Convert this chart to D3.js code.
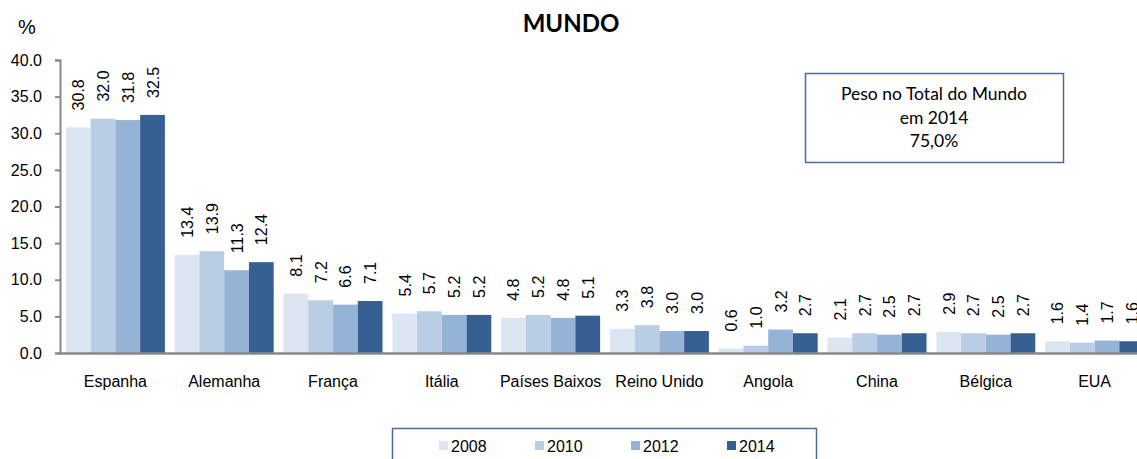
<!DOCTYPE html>
<html>
<head>
<meta charset="utf-8">
<script src="https://cdn.jsdelivr.net/npm/d3@7"></script>
<style>
  body { margin: 0; background: white; }
  svg { display: block; }
</style>
</head>
<body>
<svg id="chart" width="1137" height="459"></svg>
<script>
const countries = ["Espanha", "Alemanha", "França", "Itália", "Países Baixos", "Reino Unido", "Angola", "China", "Bélgica", "EUA"];
const years = ["2008", "2010", "2012", "2014"];
const v2008 = [30.8, 13.4, 8.1, 5.4, 4.8, 3.3, 0.6, 2.1, 2.9, 1.6];
const v2010 = [32.0, 13.9, 7.2, 5.7, 5.2, 3.8, 1.0, 2.7, 2.7, 1.4];
const v2012 = [31.8, 11.3, 6.6, 5.2, 4.8, 3.0, 3.2, 2.5, 2.5, 1.7];
const v2014 = [32.5, 12.4, 7.1, 5.2, 5.1, 3.0, 2.7, 2.7, 2.7, 1.6];
const yTicks = [0, 5, 10, 15, 20, 25, 30, 35, 40];
const colors = ["#dce6f2", "#b9cde5", "#95b3d7", "#366092"];

const series = [v2008, v2010, v2012, v2014];
const svg = d3.select("#chart");
const font = "'Liberation Sans', Arial, sans-serif";

const x = d3.scaleBand()
  .domain(countries)
  .range([61, 1149])
  .paddingInner(0.09)
  .paddingOuter(0.045);

const xs = d3.scaleBand()
  .domain(years)
  .range([0, x.bandwidth()]);

const y = d3.scaleLinear().domain([0, 40]).range([353, 60]);

// title
svg.append("text")
  .attr("x", 571)
  .attr("y", 32)
  .attr("text-anchor", "middle")
  .style("font-family", "Lato, 'Open Sans', sans-serif")
  .style("font-weight", "bold")
  .style("font-size", "24px")
  .text("MUNDO");

svg.append("text")
  .attr("x", 18)
  .attr("y", 34)
  .style("font-family", font)
  .style("font-size", "20px")
  .text("%");

// bars
const groups = svg.selectAll(".grp")
  .data(countries)
  .enter()
  .append("g")
  .attr("class", "grp")
  .attr("transform", (d) => `translate(${x(d)},0)`);

years.forEach(function (yr, j) {
  groups.append("rect")
    .attr("x", xs(yr))
    .attr("y", (d, i) => y(series[j][i]))
    .attr("width", xs.bandwidth())
    .attr("height", (d, i) => y(0) - y(series[j][i]))
    .attr("fill", colors[j]);

  groups.append("text")
    .attr("transform", (d, i) =>
      `translate(${xs(yr) + xs.bandwidth() / 2 + 6},${y(series[j][i]) - 17}) rotate(-90)`)
    .style("font-family", font)
    .style("font-size", "16px")
    .text((d, i) => series[j][i].toFixed(1));
});

// y axis
const yAxis = svg.append("g")
  .attr("transform", "translate(60,0)")
  .call(d3.axisLeft(y).tickValues(yTicks).tickFormat(d3.format(".1f")).tickSizeOuter(0).tickSize(5).tickPadding(13));
yAxis.select(".domain").attr("stroke", "#888").attr("stroke-width", 2);
yAxis.selectAll(".tick line").attr("stroke", "#888").attr("stroke-width", 2);
yAxis.selectAll(".tick text")
  .style("font-family", font)
  .style("font-size", "16px")
  .attr("fill", "#000");

// x axis
const xAxis = svg.append("g")
  .attr("transform", `translate(0,${y(0)})`)
  .call(d3.axisBottom(x).tickSize(0).tickPadding(23));
xAxis.select(".domain").attr("d", `M59,0.5H1137`).attr("stroke", "#888").attr("stroke-width", 2.5);
xAxis.selectAll(".tick text")
  .style("font-family", font)
  .style("font-size", "16px")
  .attr("fill", "#000");

// annotation box
svg.append("rect")
  .attr("x", 805.5)
  .attr("y", 73.5)
  .attr("width", 258)
  .attr("height", 89)
  .attr("fill", "white")
  .attr("stroke", "#4a6b9e")
  .attr("stroke-width", 1.5);

const noteLines = ["Peso no Total do Mundo", "em 2014", "75,0%"];
svg.append("g")
  .selectAll("text")
  .data(noteLines)
  .enter()
  .append("text")
  .attr("x", 934)
  .attr("y", (d, i) => 100 + i * 23.5)
  .attr("text-anchor", "middle")
  .style("font-family", "Lato, 'Open Sans', sans-serif")
  .style("font-size", "17.5px")
  .text((d) => d);

// legend
svg.append("rect")
  .attr("x", 392.5)
  .attr("y", 428.5)
  .attr("width", 424)
  .attr("height", 40)
  .attr("fill", "white")
  .attr("stroke", "#4a6b9e")
  .attr("stroke-width", 1.5);

const legendX = [439, 535, 631, 727];
years.forEach(function (yr, j) {
  svg.append("rect")
    .attr("x", legendX[j])
    .attr("y", 441)
    .attr("width", 9)
    .attr("height", 9)
    .attr("fill", colors[j]);
  svg.append("text")
    .attr("x", legendX[j] + 12)
    .attr("y", 452)
    .style("font-family", font)
    .style("font-size", "16px")
    .text(yr);
});
</script>
</body>
</html>
